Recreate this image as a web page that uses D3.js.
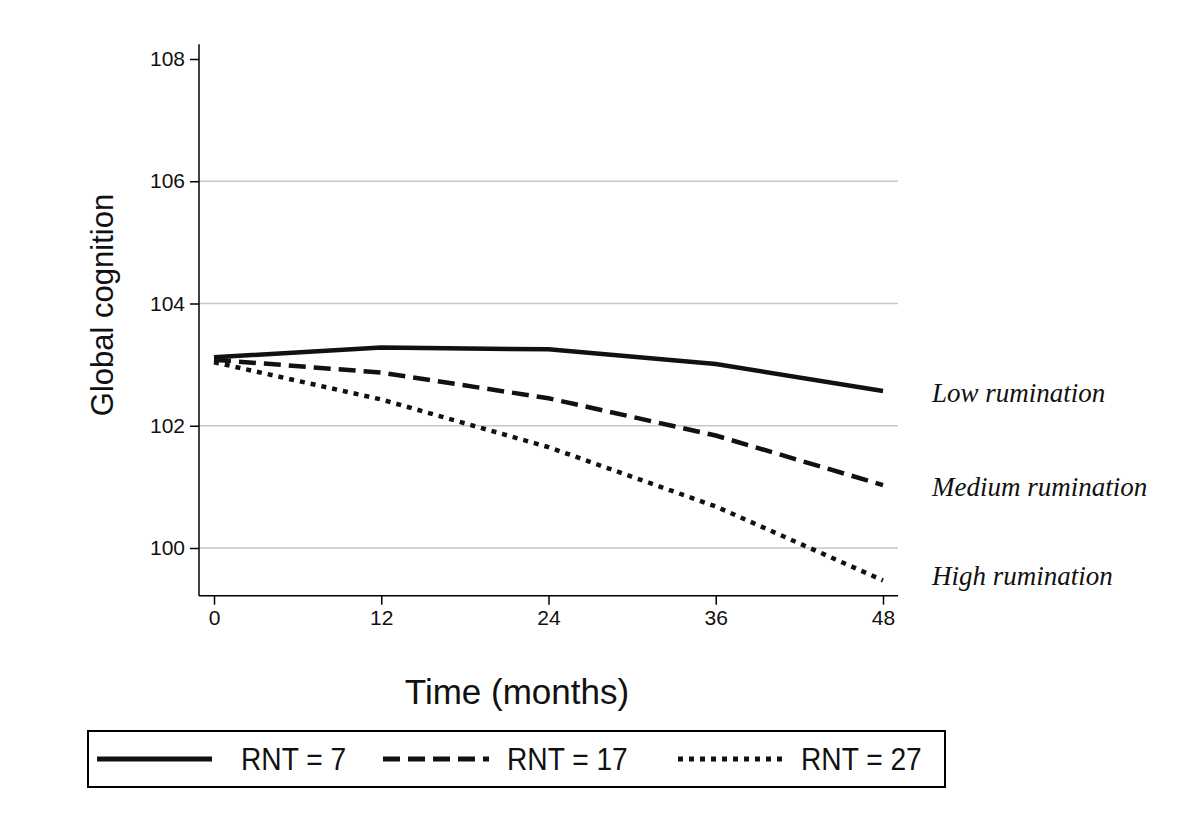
<!DOCTYPE html>
<html>
<head>
<meta charset="utf-8">
<script src="https://cdn.jsdelivr.net/npm/d3@7"></script>
<style>
  body { margin: 0; background: #fff; }
  svg { display: block; }
</style>
</head>
<body>
<div id="chart"></div>
<script>
// data
var months = [0, 12, 24, 36, 48];
var lowRNT = [103.12, 103.28, 103.25, 103.01, 102.57];
var medRNT = [103.08, 102.87, 102.45, 101.84, 101.03];
var highRNT = [103.04, 102.43, 101.65, 100.68, 99.47];
var yTicks = [100, 102, 104, 106, 108];
var seriesNames = ["RNT = 7", "RNT = 17", "RNT = 27"];
var endLabels = ["Low rumination", "Medium rumination", "High rumination"];

var W = 1200, H = 838;

var svg = d3.select("#chart")
  .append("svg")
    .attr("width", W)
    .attr("height", H);

// scales
var x = d3.scaleLinear()
    .domain([0, 48])
    .range([214, 883]);

var y = d3.scaleLinear()
    .domain([100, 108])
    .range([548, 59]);

var plotLeft = 199, plotRight = 898, plotTop = y(108.24), plotBottom = y(99.22);

// gridlines
svg.append("g")
  .selectAll("line")
  .data(yTicks.filter(function(d) { return d < 108; }))
  .enter().append("line")
    .attr("x1", plotLeft)
    .attr("x2", plotRight)
    .attr("y1", function(d) { return y(d); })
    .attr("y2", function(d) { return y(d); })
    .attr("stroke", "#c8c8c8")
    .attr("stroke-width", 1.5);

// Y axis
var yAxis = svg.append("g")
    .attr("transform", "translate(" + plotLeft + ",0)")
    .call(d3.axisLeft(y).tickValues(yTicks).tickSize(9).tickPadding(5).tickSizeOuter(0));
yAxis.select(".domain").attr("d", "M0," + plotTop + "V" + plotBottom)
    .attr("stroke", "#000").attr("stroke-width", 1.5);

// X axis
var xAxis = svg.append("g")
    .attr("transform", "translate(0," + plotBottom + ")")
    .call(d3.axisBottom(x).tickValues(months).tickSize(9).tickPadding(5).tickSizeOuter(0));
xAxis.select(".domain").attr("d", "M" + plotLeft + ",0H" + plotRight)
    .attr("stroke", "#000").attr("stroke-width", 1.5);

svg.selectAll(".tick line").attr("stroke", "#000").attr("stroke-width", 1.5);
svg.selectAll(".tick text")
    .attr("font-family", "Liberation Sans, Arial, sans-serif")
    .attr("font-size", 21)
    .attr("fill", "#111");

// axis titles
svg.append("text")
    .attr("x", 517)
    .attr("y", 704)
    .attr("text-anchor", "middle")
    .attr("font-family", "Liberation Sans, Arial, sans-serif")
    .attr("font-size", 35)
    .attr("fill", "#111")
    .text("Time (months)");

svg.append("text")
    .attr("transform", "translate(113,305) rotate(-90)")
    .attr("text-anchor", "middle")
    .attr("font-family", "Liberation Sans, Arial, sans-serif")
    .attr("font-size", 31)
    .attr("fill", "#111")
    .text("Global cognition");

// lines
var dashes = [null, "17,8", "5,6"];
var allSeries = [lowRNT, medRNT, highRNT];

var line = d3.line()
    .x(function(d, i) { return x(months[i]); })
    .y(function(d) { return y(d); });

svg.append("g")
  .selectAll("path")
  .data(allSeries)
  .enter().append("path")
    .attr("d", line)
    .attr("fill", "none")
    .attr("stroke", "#111")
    .attr("stroke-width", 4.5)
    .attr("stroke-dasharray", function(d, i) { return dashes[i]; });

// end labels
var labelY = [402, 496, 585];
svg.append("g")
  .selectAll("text")
  .data(endLabels)
  .enter().append("text")
    .attr("x", 932)
    .attr("y", function(d, i) { return labelY[i]; })
    .attr("font-family", "Liberation Serif, Times New Roman, serif")
    .attr("font-style", "italic")
    .attr("font-size", 27)
    .attr("fill", "#111")
    .text(function(d) { return d; });

// legend
var legend = svg.append("g");
legend.append("rect")
    .attr("x", 88)
    .attr("y", 731)
    .attr("width", 857)
    .attr("height", 56)
    .attr("fill", "none")
    .attr("stroke", "#000")
    .attr("stroke-width", 2);

var legX = [97, 383, 678];
var legW = [115, 106, 105];
var legTextX = [241, 507, 801];

legend.selectAll("line")
  .data(seriesNames)
  .enter().append("line")
    .attr("x1", function(d, i) { return legX[i]; })
    .attr("x2", function(d, i) { return legX[i] + legW[i]; })
    .attr("y1", 759)
    .attr("y2", 759)
    .attr("stroke", "#111")
    .attr("stroke-width", 5)
    .attr("stroke-dasharray", function(d, i) { return dashes[i]; });

// narrow sans look: squeeze the glyphs horizontally
legend.selectAll("text")
  .data(seriesNames)
  .enter().append("text")
    .attr("transform", function(d, i) { return "translate(" + legTextX[i] + ",770) scale(0.88,1)"; })
    .attr("font-family", "Liberation Sans, Arial, sans-serif")
    .attr("font-size", 32)
    .attr("fill", "#111")
    .text(function(d) { return d; });
</script>
</body>
</html>
